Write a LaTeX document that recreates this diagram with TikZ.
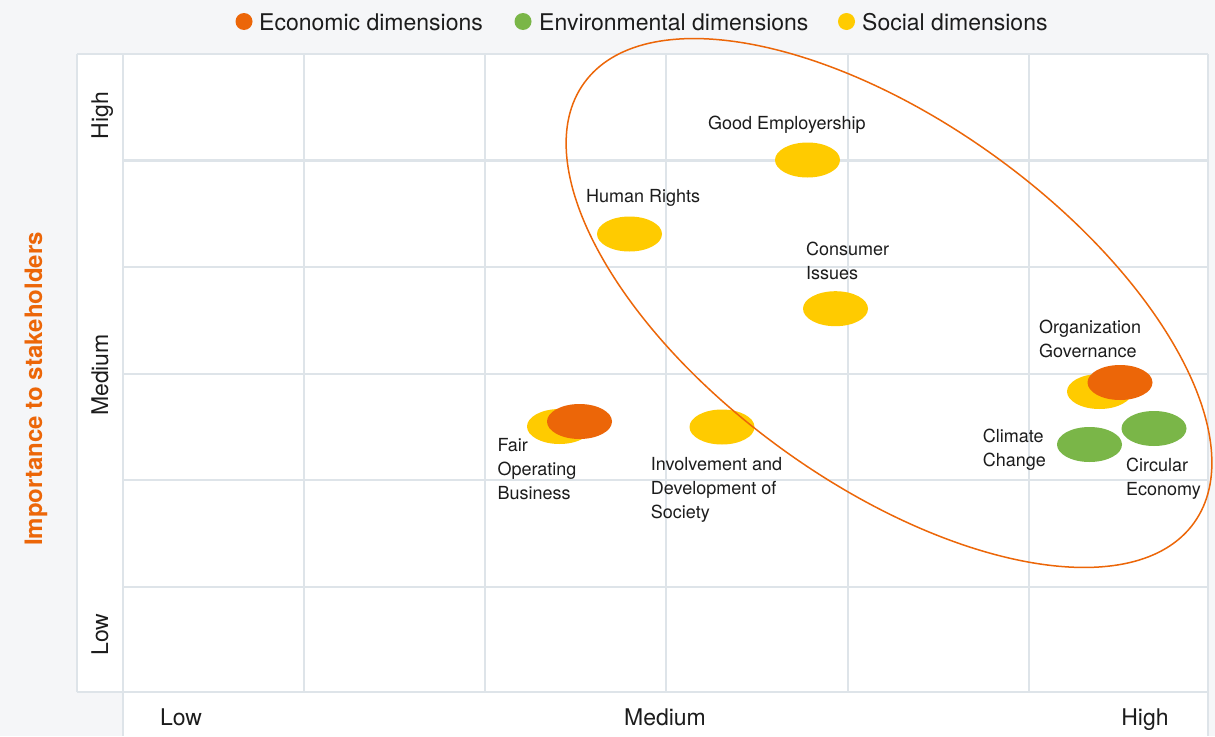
\documentclass[tikz,border=0pt]{standalone}
\usepackage{fontspec}
\setmainfont{TeX Gyre Heros}
\usetikzlibrary{shapes.geometric}
\definecolor{bg}{HTML}{F5F6F8}
\definecolor{gridc}{HTML}{DEE4E9}
\definecolor{ink}{HTML}{1C1C1C}
\definecolor{ecoorange}{HTML}{EC6608}
\definecolor{envgreen}{HTML}{7AB648}
\definecolor{socyellow}{HTML}{FFCB00}
\begin{document}
\begin{tikzpicture}[x=1pt,y=-1pt,
  bubble/.style={ellipse, minimum width=65pt, minimum height=35pt, inner sep=0pt, draw=none},
  eco/.style={bubble, fill=ecoorange},
  env/.style={bubble, fill=envgreen},
  soc/.style={bubble, fill=socyellow},
  lbl/.style={anchor=north west, inner sep=0pt, align=left, font=\fontsize{18}{24}\selectfont, text=ink},
  tick/.style={anchor=base, inner sep=0pt, font=\fontsize{23}{28}\selectfont, text=ink},
  legtext/.style={anchor=base west, inner sep=0pt, font=\fontsize{23}{28}\selectfont, text=ink},
  legdot/.style={circle, minimum size=17pt, inner sep=0pt, draw=none},
  gridline/.style={draw=gridc, line width=2.6pt},
]
\useasboundingbox (0,0) rectangle (1215,736);
% background
\fill[bg] (0,0) rectangle (1215,736);
\fill[white] (77,54) rectangle (1208,692);
\fill[white] (123,692) rectangle (1208,736);
% grid
\foreach \gx in {304,485,666,848,1029} {\draw[gridline] (\gx,54) -- (\gx,692);}
\draw[gridline] (123,54) -- (123,736);
\draw[gridline] (1208,54) -- (1208,736);
\draw[gridline] (77,54) -- (77,692);
\foreach \gy in {160.5,267,374,480,587} {\draw[gridline] (123,\gy) -- (1208,\gy);}
\draw[gridline] (77,54) -- (1208,54);
\draw[gridline] (77,692) -- (1208,692);
% legend
\node[legdot, fill=ecoorange] (ld1) at (244,21.5) {};
\node[legtext] (lt1) at (259,30) {Economic dimensions};
\node[legdot, fill=envgreen] (ld2) at (523,21.5) {};
\node[legtext] (lt2) at (539,30) {Environmental dimensions};
\node[legdot, fill=socyellow] (ld3) at (846.5,21.5) {};
\node[legtext] (lt3) at (862,30) {Social dimensions};
% axis title
\node[rotate=90, inner sep=0pt, text=ecoorange, font=\fontsize{24}{28}\selectfont\bfseries] (ytitle) at (36,389) {Importance to stakeholders};
% ticks
\node[tick, rotate=90] (yh) at (108,115.5) {High};
\node[tick, rotate=90] (ym) at (108,375) {Medium};
\node[tick, rotate=90] (yl) at (108,634.5) {Low};
\node[tick] (xl) at (181,725) {Low};
\node[tick] (xm) at (665,725) {Medium};
\node[tick] (xh) at (1145,725) {High};
% bubbles
\node[soc] (ge) at (807.5,160) {};
\node[soc] (hr) at (629.5,234) {};
\node[soc] (ci) at (835.5,308.7) {};
\node[soc] (ogy) at (1099.5,391.5) {};
\node[eco] (ogo) at (1120,382.5) {};
\node[env] (cc) at (1089.5,444.5) {};
\node[env] (ce) at (1154,428.5) {};
\node[soc] (foy) at (559.5,426.5) {};
\node[eco] (foo) at (579.5,421.5) {};
\node[soc] (ids) at (722,427) {};
% focus ellipse
\node[ellipse, draw=ecoorange, line width=1.5pt, minimum width=752pt, minimum height=362pt, inner sep=0pt, rotate=-35.8] (focus) at (889,303) {};
% labels
\node[lbl] (lge) at (708,115.8) {Good Employership};
\node[lbl] (lhr) at (586,189.5) {Human Rights};
\node[lbl] (lci) at (806,241.8) {Consumer\\Issues};
\node[lbl] (log) at (1039,320) {Organization\\Governance};
\node[lbl] (lcc) at (982.7,428.5) {Climate\\Change};
\node[lbl] (lce) at (1126,457.5) {Circular\\Economy};
\node[lbl] (lfo) at (497.3,437.8) {Fair\\Operating\\Business};
\node[lbl] (lid) at (650.7,456.8) {Involvement and\\Development of\\Society};
\end{tikzpicture}
\end{document}
